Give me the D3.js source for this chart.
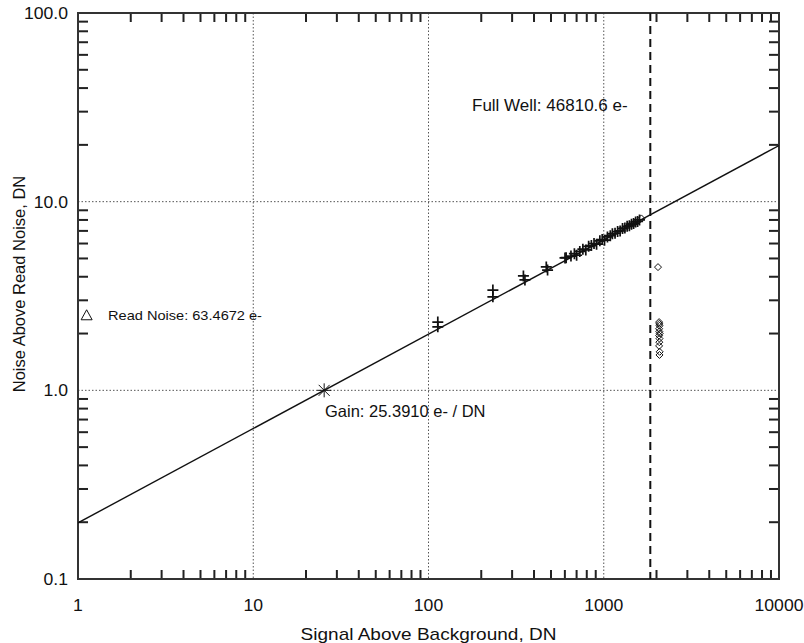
<!DOCTYPE html>
<html><head><meta charset="utf-8">
<script src="https://cdn.jsdelivr.net/npm/d3@7"></script>
<style>body{margin:0;background:#fff}svg{display:block}text{font-family:"Liberation Sans",Arial,Helvetica,sans-serif;fill:#111}</style>
</head><body><svg id="c" width="804" height="643"></svg>
<script>
// ---- data ----
const xTickValues = [1, 10, 100, 1000, 10000];
const xTickLabels = ["1", "10", "100", "1000", "10000"];
const yTickValues = [0.1, 1, 10, 100];
const yTickLabels = ["0.1", "1.0", "10.0", "100.0"];
const xMinorTicks = [2,3,4,5,6,7,8,9, 20,30,40,50,60,70,80,90, 200,300,400,500,600,700,800,900, 2000,3000,4000,5000,6000,7000,8000,9000];
const yMinorTicks = [0.2,0.3,0.4,0.5,0.6,0.7,0.8,0.9, 2,3,4,5,6,7,8,9, 20,30,40,50,60,70,80,90];
const gridX = [10, 100, 1000];
const gridY = [1, 10];
const gain = 25.3910;
const fullWellDN = 1843.6;
const readNoiseDN = 2.4996;
const readNoisePosX = 1.12;
// measured points (plus signs)
const plusSignal = [113, 113, 233, 233, 348, 355, 470, 478, 601,
  610, 650, 680, 700, 730, 760, 790, 820, 850, 880, 910, 950, 980, 1010, 1050, 1090,
  1120, 1160, 1200, 1240, 1280, 1320, 1360, 1400, 1440, 1480, 1520, 1560, 1600];
const plusNoise = [2.30, 2.17, 3.40, 3.13, 4.04, 3.85, 4.51, 4.34, 5.03,
  5.05, 5.15, 5.30, 5.20, 5.45, 5.60, 5.55, 5.80, 5.85, 6.00, 5.95, 6.20, 6.30, 6.25, 6.50, 6.60,
  6.75, 6.80, 6.95, 7.00, 7.20, 7.25, 7.40, 7.45, 7.60, 7.65, 7.80, 7.85, 8.00];
// rejected points (diamonds)
const diamondSignal = [1640, 2040, 2070, 2075, 2080, 2070, 2075, 2085, 2070, 2080, 2075, 2070, 2085, 2080];
const diamondNoise = [8.15, 4.50, 2.30, 2.25, 2.20, 2.12, 2.05, 2.00, 1.95, 1.88, 1.80, 1.72, 1.60, 1.54];
// fit line (signal endpoints)
const fitSignal = [1, 10000];
const fitNoise = fitSignal.map(s => Math.sqrt(s / gain));

// ---- layout ----
const L = 78, R = 779, T = 13, B = 579;
const svg = d3.select("#c");
const x = d3.scaleLog().domain([1, 10000]).range([L, R]);
const y = d3.scaleLog().domain([0.1, 100]).range([B, T]);

svg.append("clipPath").attr("id", "clp").append("rect")
  .attr("x", L).attr("y", T).attr("width", R - L).attr("height", B - T);

// dotted gridlines
svg.append("g").selectAll("line").data(gridX).join("line")
  .attr("x1", d => x(d)).attr("x2", d => x(d)).attr("y1", T).attr("y2", B)
  .attr("stroke", "#555").attr("stroke-width", 1).attr("stroke-dasharray", "1.5,2");
svg.append("g").selectAll("line").data(gridY).join("line")
  .attr("y1", d => y(d)).attr("y2", d => y(d)).attr("x1", L).attr("x2", R)
  .attr("stroke", "#555").attr("stroke-width", 1).attr("stroke-dasharray", "1.5,2");

// minor ticks (inward) on all four sides
const tkx = 9, tky = 10;
const tg = svg.append("g").attr("fill", "#222");
tg.selectAll(".tb").data(xMinorTicks).join("rect").attr("class", "tb")
  .attr("x", v => x(v) - 1).attr("y", B - tkx).attr("width", 2).attr("height", tkx);
tg.selectAll(".tt").data(xMinorTicks).join("rect").attr("class", "tt")
  .attr("x", v => x(v) - 1).attr("y", T).attr("width", 2).attr("height", tkx);
tg.selectAll(".tl").data(yMinorTicks).join("rect").attr("class", "tl")
  .attr("x", L).attr("y", v => y(v) - 1).attr("width", tky).attr("height", 2);
tg.selectAll(".tr").data(yMinorTicks).join("rect").attr("class", "tr")
  .attr("x", R - tky).attr("y", v => y(v) - 1).attr("width", tky).attr("height", 2);

// frame
svg.append("rect").attr("x", L).attr("y", T).attr("width", R - L).attr("height", B - T)
  .attr("fill", "none").attr("stroke", "#333").attr("stroke-width", 2);

// tick labels
svg.append("g").selectAll("text").data(xTickValues).join("text")
  .attr("transform", d => `translate(${x(d)},611) scale(1.1,1)`)
  .attr("text-anchor", "middle").attr("font-size", 16)
  .text((d, i) => xTickLabels[i]);
svg.append("g").selectAll("text").data(yTickValues).join("text")
  .attr("transform", d => `translate(68,${y(d) + 6}) scale(1.1,1)`)
  .attr("text-anchor", "end").attr("font-size", 16)
  .text((d, i) => yTickLabels[i]);

// axis titles
svg.append("text").attr("transform", `translate(${(L + R) / 2},640) scale(1.12,1)`)
  .attr("text-anchor", "middle").attr("font-size", 17).text("Signal Above Background, DN");
svg.append("text").attr("transform", `translate(25,284) rotate(-90)`)
  .attr("text-anchor", "middle").attr("font-size", 16.5).text("Noise Above Read Noise, DN");

const pg = svg.append("g").attr("clip-path", "url(#clp)");
// fit line
pg.append("line").attr("x1", x(fitSignal[0])).attr("y1", y(fitNoise[0]))
  .attr("x2", x(fitSignal[1])).attr("y2", y(fitNoise[1]))
  .attr("stroke", "#111").attr("stroke-width", 1.4);
// full well dashed line
pg.append("line").attr("x1", x(fullWellDN)).attr("x2", x(fullWellDN)).attr("y1", T).attr("y2", B)
  .attr("stroke", "#111").attr("stroke-width", 2).attr("stroke-dasharray", "8,5");

// plus markers
const plusData = plusSignal.map((s, i) => [s, plusNoise[i]]);
pg.append("g").selectAll("path").data(plusData).join("path")
  .attr("d", d => `M${x(d[0]) - 5.5},${y(d[1])}h11M${x(d[0])},${y(d[1]) - 5.5}v11`)
  .attr("stroke", "#111").attr("stroke-width", 1.7).attr("fill", "none");
// diamonds
const diaData = diamondSignal.map((s, i) => [s, diamondNoise[i]]);
pg.append("g").selectAll("path").data(diaData).join("path")
  .attr("d", d => `M${x(d[0])},${y(d[1]) - 3.5}l3.5,3.5l-3.5,3.5l-3.5,-3.5z`)
  .attr("stroke", "#111").attr("stroke-width", 1).attr("fill", "none");

// gain asterisk
const gx0 = x(gain), gy0 = y(1);
pg.append("path").attr("d", `M${gx0 - 7},${gy0}h14M${gx0},${gy0 - 7}v14M${gx0 - 5.5},${gy0 - 5.5}l11,11M${gx0 - 5.5},${gy0 + 5.5}l11,-11`)
  .attr("stroke", "#111").attr("stroke-width", 1);

// read noise triangle
const rx = x(readNoisePosX), ry = y(readNoiseDN);
pg.append("path").attr("d", `M${rx},${ry - 5.5}L${rx + 5.5},${ry + 4.5}L${rx - 5.5},${ry + 4.5}Z`)
  .attr("stroke", "#111").attr("stroke-width", 1).attr("fill", "none");

// annotations
svg.append("text").attr("transform", `translate(108,${y(readNoiseDN) + 5}) scale(1.08,1)`).attr("font-size", 13.5)
  .text("Read Noise: 63.4672 e-");
svg.append("text").attr("x", 325).attr("y", 417).attr("font-size", 16.5)
  .text("Gain: 25.3910 e- / DN");
svg.append("text").attr("x", 472).attr("y", 111).attr("font-size", 17)
  .text("Full Well: 46810.6 e-");
</script></body></html>
